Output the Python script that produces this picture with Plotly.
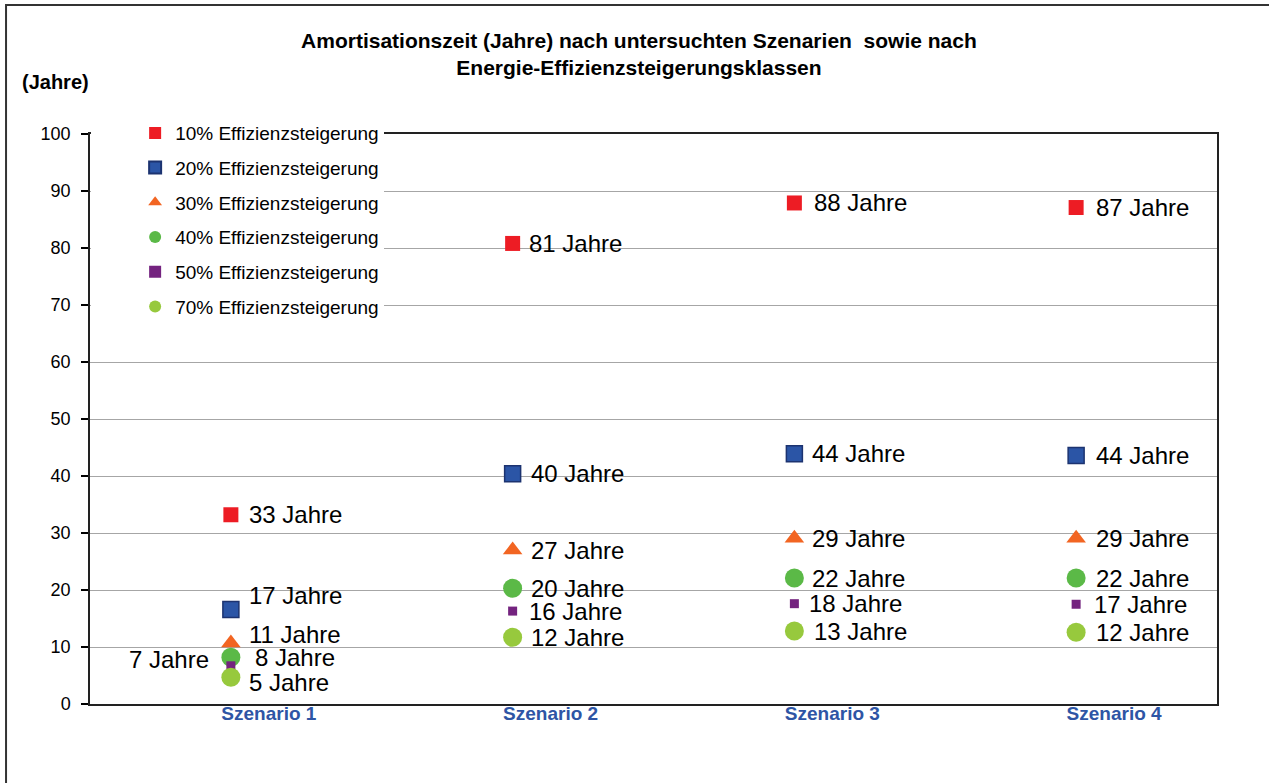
import plotly.graph_objects as go

categories = ["Szenario 1", "Szenario 2", "Szenario 3", "Szenario 4"]
series_names = [
    "10% Effizienzsteigerung",
    "20% Effizienzsteigerung",
    "30% Effizienzsteigerung",
    "40% Effizienzsteigerung",
    "50% Effizienzsteigerung",
    "70% Effizienzsteigerung",
]
v10 = [33.2, 80.8, 87.9, 87.1]
v20 = [16.6, 40.4, 43.9, 43.6]
v30 = [10.7, 27.0, 29.1, 29.1]
v40 = [8.2, 20.3, 22.1, 22.1]
v50 = [6.7, 16.3, 17.6, 17.5]
v70 = [4.7, 11.7, 12.8, 12.6]
values = [v10, v20, v30, v40, v50, v70]

lab10 = [33, 81, 88, 87]
lab20 = [17, 40, 44, 44]
lab30 = [11, 27, 29, 29]
lab40 = [8, 20, 22, 22]
lab50 = [7, 16, 18, 17]
lab70 = [5, 12, 13, 12]
labels = [lab10, lab20, lab30, lab40, lab50, lab70]

y_ticks = list(range(0, 101, 10))

# styles
colors = ["#ED1C24", "#2B55A6", "#F26522", "#5BB947", "#74237F", "#97C93D"]
line_colors = ["#ED1C24", "#1C3370", "#F26522", "#5BB947", "#74237F", "#97C93D"]
symbols = ["square", "square", "triangle-up", "circle", "square", "circle"]
sizes = [15, 16, 17, 19, 9, 19]
# label offsets (xshift, yshift, xanchor) per series / scenario
offsets = [
    [(16, 0, "left"), (14, 0, "left"), (18, 0, "left"), (18, 0, "left")],
    [(16, 14, "left"), (16, 0, "left"), (16, 0, "left"), (18, 0, "left")],
    [(16, 9, "left"), (16, 0, "left"), (16, 0, "left"), (18, 0, "left")],
    [(22, 0, "left"), (16, 0, "left"), (16, 0, "left"), (18, 0, "left")],
    [(-20, 6, "right"), (14, 0, "left"), (13, 0, "left"), (16, 0, "left")],
    [(16, -5, "left"), (16, 0, "left"), (18, 0, "left"), (18, 0, "left")],
]

FONT = "Liberation Sans, Arial, sans-serif"

fig = go.Figure()
for i, name in enumerate(series_names):
    fig.add_trace(go.Scatter(
        x=categories, y=values[i], mode="markers", name=name,
        legendgroup=name,
        marker=dict(symbol=symbols[i], size=sizes[i], color=colors[i],
                    line=dict(color=line_colors[i], width=1.5 if i == 1 else 0)),
        hoverinfo="skip",
    ))

annotations = []
for i in range(len(series_names)):
    for j, cat in enumerate(categories):
        dx, dy, anchor = offsets[i][j]
        annotations.append(dict(
            x=cat, y=values[i][j], xref="x", yref="y",
            text=f"{labels[i][j]} Jahre", showarrow=False,
            xanchor=anchor, yanchor="middle", xshift=dx, yshift=dy,
            font=dict(family=FONT, size=24, color="#000000"),
        ))

annotations.append(dict(
    x=-0.0621, y=1.091, xref="paper", yref="paper", text="<b>(Jahre)</b>",
    showarrow=False, xanchor="left", yanchor="middle",
    font=dict(family=FONT, size=20, color="#000000"),
))

fig.update_layout(
    width=1269, height=783,
    margin=dict(l=90, r=52, t=134, b=79),
    paper_bgcolor="white", plot_bgcolor="white",
    font=dict(family=FONT, color="#000000"),
    title=dict(
        text="<b>Amortisationszeit (Jahre) nach untersuchten Szenarien&nbsp; sowie nach<br>Energie-Effizienzsteigerungsklassen</b>",
        x=0.5035, xref="container", xanchor="center",
        y=0.9387, yref="container", yanchor="middle",
        font=dict(family=FONT, size=21, color="#000000"),
    ),
    xaxis=dict(
        type="category", range=[-0.5, 3.5], showgrid=False,
        showline=True, linecolor="#222222", linewidth=1.5, mirror=True,
        ticks="", tickfont=dict(family=FONT, size=19, color="#2E55A5", weight="bold"),
        ticklabelstandoff=-9, ticklabelshift=38,
    ),
    yaxis=dict(
        range=[0, 100], tickvals=y_ticks, showgrid=True, gridcolor="#A6A6A6", gridwidth=1,
        showline=True, linecolor="#222222", linewidth=1.5, mirror=True,
        ticks="outside", ticklen=7, tickcolor="#000000", tickwidth=1.5,
        tickfont=dict(family=FONT, size=18, color="#000000"),
        ticklabelstandoff=7,
        zeroline=False,
    ),
    legend=dict(
        x=0.001, y=1.035, xanchor="left", yanchor="top",
        bgcolor="white", borderwidth=0, indentation=44,
        entrywidth=332, itemsizing="constant", tracegroupgap=7,
        font=dict(family=FONT, size=19, color="#000000"),
    ),
    annotations=annotations,
    shapes=[dict(
        type="rect", xref="paper", yref="paper",
        x0=-0.0745, x1=1.2, y0=-0.4, y1=1.2263,
        line=dict(color="#333333", width=2), fillcolor="rgba(0,0,0,0)",
        layer="above",
    )],
)

fig.write_html(
    "out.html",
    config={"displayModeBar": False},
    post_script="document.body.style.margin='0';document.body.style.overflow='hidden';",
)
